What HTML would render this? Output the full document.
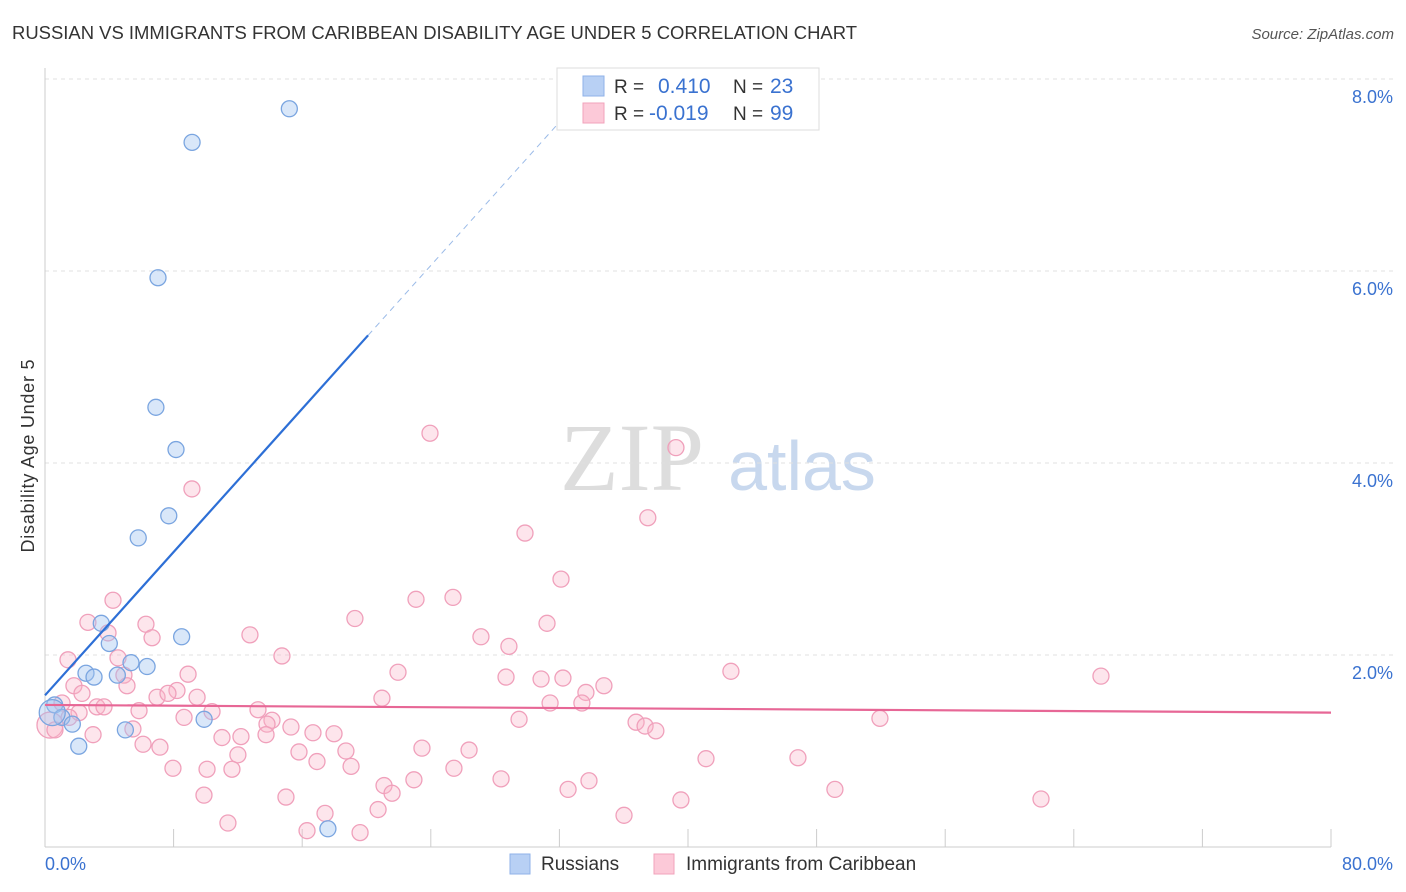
<!DOCTYPE html>
<html><head><meta charset="utf-8"><style>
body{margin:0;background:#fff;font-family:"Liberation Sans",sans-serif;}
svg{display:block}
</style></head><body>
<svg id="c" width="1406" height="892" xmlns="http://www.w3.org/2000/svg">
<text x="12" y="39" font-size="18" fill="#333" textLength="845" lengthAdjust="spacingAndGlyphs">RUSSIAN VS IMMIGRANTS FROM CARIBBEAN DISABILITY AGE UNDER 5 CORRELATION CHART</text>
<text x="1394" y="39" font-size="15" fill="#555" font-style="italic" text-anchor="end">Source: ZipAtlas.com</text>
<g>
<text x="632" y="490" font-size="96" font-family="Liberation Serif,serif" fill="#ddd" text-anchor="middle">ZIP</text>
<text x="802" y="490" font-size="70" fill="#c8d8ee" text-anchor="middle">atlas</text>
</g>
<g id="grid"></g><g id="axes"></g><g id="pts"></g><g id="lines"></g>
<text transform="translate(34,456) rotate(-90)" font-size="18" fill="#333" text-anchor="middle" textLength="193">Disability Age Under 5</text>
<g>
<rect x="557" y="68" width="262" height="62" fill="#fff" stroke="#ddd"/>
<rect x="583" y="76" width="21" height="20" fill="#b8d0f4" stroke="#8fb2e8"/>
<rect x="583" y="103" width="21" height="20" fill="#fcc9d8" stroke="#f2a3bb"/>
<text x="614" y="93" font-size="19" fill="#333">R =</text><text x="658" y="93" font-size="21" fill="#3a72d0">0.410</text>
<text x="733" y="93" font-size="19" fill="#333">N =</text><text x="770" y="93" font-size="21" fill="#3a72d0">23</text>
<text x="614" y="120" font-size="19" fill="#333">R =</text><text x="649" y="120" font-size="21" fill="#3a72d0">-0.019</text>
<text x="733" y="120" font-size="19" fill="#333">N =</text><text x="770" y="120" font-size="21" fill="#3a72d0">99</text>
</g>
<g>
<rect x="510" y="854" width="20" height="20" fill="#b8d0f4" stroke="#8fb2e8"/>
<text x="541" y="870" font-size="19" fill="#333">Russians</text>
<rect x="654" y="854" width="20" height="20" fill="#fcc9d8" stroke="#f2a3bb"/>
<text x="686" y="870" font-size="19" fill="#333">Immigrants from Caribbean</text>
</g>
</svg>
<script>
const xTicks=[0,8,16,24,32,40,48,56,64,72,80];
const yTicks=[2,4,6,8];
const blueX=[15.2,9.15,7.03,6.9,8.15,7.7,5.8,8.5,3.5,4.0,5.35,6.35,2.55,3.05,4.5,0.6,1.05,1.7,9.9,5.0,2.1,17.6,0.45];
const blueY=[7.69,7.34,5.93,4.58,4.14,3.45,3.22,2.19,2.33,2.12,1.92,1.88,1.81,1.77,1.79,1.48,1.35,1.28,1.33,1.22,1.05,0.19,1.4];
const pinkX=[23.95,39.25,9.14,37.5,29.86,32.1,4.23,23.08,25.38,19.28,31.23,6.28,2.67,27.12,3.92,6.66,12.75,28.86,1.43,14.74,4.54,21.96,42.67,65.69,8.9,28.68,30.86,32.22,4.91,5.1,1.8,34.77,8.21,33.65,2.3,6.97,9.46,7.65,20.96,31.42,33.4,3.23,3.67,1.06,5.85,10.39,13.25,2.12,8.65,14.12,13.81,51.94,29.49,15.3,36.77,37.33,38.0,5.47,12.19,13.75,11.01,17.98,16.67,2.99,6.1,7.15,15.8,18.72,23.45,26.38,12.0,41.12,46.84,16.92,19.04,7.96,10.08,11.63,25.44,28.37,21.09,22.95,33.84,32.54,21.59,49.14,39.56,61.96,9.89,14.99,20.72,17.42,36.02,11.38,16.3,19.6,0.31,0.62,1.5];
const pinkY=[4.31,4.16,3.73,3.43,3.27,2.79,2.57,2.58,2.60,2.38,2.33,2.32,2.34,2.19,2.23,2.18,2.21,2.09,1.95,1.99,1.97,1.82,1.83,1.78,1.80,1.77,1.75,1.76,1.79,1.68,1.68,1.68,1.63,1.61,1.60,1.56,1.56,1.60,1.55,1.50,1.50,1.46,1.46,1.50,1.42,1.41,1.43,1.40,1.35,1.32,1.28,1.34,1.33,1.25,1.30,1.26,1.21,1.23,1.15,1.17,1.14,1.18,1.19,1.17,1.07,1.04,0.99,1.00,1.03,1.01,0.96,0.92,0.93,0.89,0.84,0.82,0.81,0.81,0.82,0.71,0.64,0.70,0.69,0.60,0.56,0.60,0.49,0.50,0.54,0.52,0.39,0.35,0.33,0.25,0.17,0.15,1.27,1.22,1.35];
const blueLine=[[0,1.58],[20.1,5.33],[32,7.55]];
const pinkLine=[[0,1.48],[80,1.40]];
const X=v=>45+v*16.075, Y=v=>847-v*96;
const NS="http://www.w3.org/2000/svg";
function mk(p,t,a){const e=document.createElementNS(NS,t);for(const k in a)e.setAttribute(k,a[k]);p.appendChild(e);return e;}
const grid=document.getElementById('grid'),axes=document.getElementById('axes'),pts=document.getElementById('pts'),lines=document.getElementById('lines');
yTicks.forEach(t=>{
 const l=mk(grid,'line',{x1:45,x2:1393,y1:Y(t),y2:Y(t),stroke:'#e0e0e0','stroke-dasharray':'4,4'});
 
 
 const tx=mk(axes,'text',{x:1393,y:Y(t)+24,'font-size':18,fill:'#3a72d0','text-anchor':'end'});
 tx.textContent=t.toFixed(1)+'%';
 
 
});
mk(axes,'line',{x1:45,x2:45,y1:68,y2:847,stroke:'#ccc'});
mk(axes,'line',{x1:45,x2:1331,y1:847,y2:847,stroke:'#ccc'});
xTicks.forEach(t=>{
 const l=mk(axes,'line',{x1:X(t),x2:X(t),y1:829,y2:847,stroke:'#ccc'});
 
 
});
[[0,'start',45],[80,'end',1393]].forEach(([v,a,x])=>{
 const tx=mk(axes,'text',{x:x,y:870,'font-size':18,fill:'#3a72d0','text-anchor':a});
 tx.textContent=v.toFixed(1)+'%';
 
 
});
pinkX.forEach((v,i)=>{
 const big=i==pinkX.length-3;
 const c=mk(pts,'circle',{cx:X(v),cy:Y(pinkY[i]),r:big?13:8,fill:'rgba(248,180,200,0.35)',stroke:'#f0a0bb','stroke-width':1.3});
 
 
});
blueX.forEach((v,i)=>{
 const c=mk(pts,'circle',{cx:X(v),cy:Y(blueY[i]),r:i==blueX.length-1?13:8,fill:'rgba(160,195,240,0.4)',stroke:'#7aa5e0','stroke-width':1.3});
 
 
});
let b=mk(lines,'line',{x1:X(blueLine[0][0]),y1:Y(blueLine[0][1]),x2:X(blueLine[1][0]),y2:Y(blueLine[1][1]),stroke:'#2d6fd6','stroke-width':2.2});


b=mk(lines,'line',{x1:X(blueLine[1][0]),y1:Y(blueLine[1][1]),x2:X(blueLine[2][0]),y2:Y(blueLine[2][1]),stroke:'#9bbbe8','stroke-width':1,'stroke-dasharray':'6,5'});


b=mk(lines,'line',{x1:X(pinkLine[0][0]),y1:Y(pinkLine[0][1]),x2:X(pinkLine[1][0]),y2:Y(pinkLine[1][1]),stroke:'#e76796','stroke-width':2.2});


</script>
</body></html>
